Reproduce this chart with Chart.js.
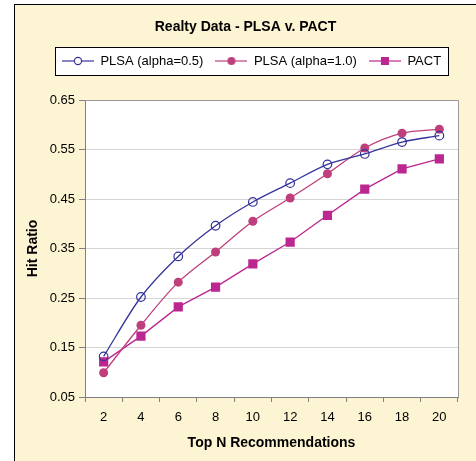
<!DOCTYPE html>
<html><head><meta charset="utf-8">
<script src="https://cdn.jsdelivr.net/npm/chart.js@4/dist/chart.umd.min.js"></script>
<style>
html,body{margin:0;padding:0;background:#fff;overflow:hidden;width:476px;height:461px}
#frame{position:absolute;left:14px;top:4px;width:480px;height:470px;border:1px solid #000;background:#fdf4d3}
#c{position:absolute;left:0;top:0}
</style></head><body>
<div id="frame"><canvas id="c" width="461" height="456"></canvas></div>
<script>
// ---- data ----
const categories = ['2','4','6','8','10','12','14','16','18','20'];
const plsaHalf = [0.132,0.252,0.334,0.396,0.444,0.482,0.520,0.541,0.565,0.578];
const plsaOne  = [0.099,0.195,0.282,0.343,0.405,0.452,0.501,0.553,0.583,0.591];
const pact     = [0.121,0.173,0.232,0.272,0.319,0.363,0.417,0.470,0.511,0.531];
const seriesNames = ['PLSA (alpha=0.5)','PLSA (alpha=1.0)','PACT'];
const yMin = 0.05, yMax = 0.65, yStep = 0.1;
const chartTitle = 'Realty Data - PLSA v. PACT';
const xTitle = 'Top N Recommendations';
const yTitle = 'Hit Ratio';

// ---- styles ----
const BLUE = '#333399', ROSE = '#bf3f7c', MAG = '#bb2690';
const FONT = 'Arial, "Liberation Sans", sans-serif';
Chart.defaults.font.family = FONT;
Chart.defaults.color = '#000';

function legendImg(color, kind){
  const c = document.createElement('canvas');
  c.width = 32; c.height = 12;
  const x = c.getContext('2d');
  x.strokeStyle = color; x.lineWidth = 1.2;
  x.beginPath(); x.moveTo(0,6); x.lineTo(32,6); x.stroke();
  if (kind === 'open'){
    x.fillStyle = '#fff'; x.beginPath(); x.arc(16,6,3.6,0,Math.PI*2); x.fill(); x.stroke();
  } else if (kind === 'dot'){
    x.fillStyle = color; x.beginPath(); x.arc(16,6,4,0,Math.PI*2); x.fill();
  } else {
    x.fillStyle = color; x.fillRect(12,2,8,8);
  }
  return c;
}
const legendImgs = [legendImg(BLUE,'open'), legendImg(ROSE,'dot'), legendImg(MAG,'sq')];

const LEGEND_GAP = 22.5;
const helper = {
  id: 'helper',
  beforeUpdate(chart){
    const lg = chart.legend;
    if (lg && !lg._patched){
      const orig = lg.fit;
      lg.fit = function(){ orig.call(this); if (this.isHorizontal()) this.height += LEGEND_GAP; };
      lg._patched = true;
    }
  },
  afterLayout(chart){
    const t = chart.titleBlock;
    t.left = 0; t.right = chart.width; t.width = chart.width;
    const lg = chart.legend;
    lg.left = 6; lg.right = chart.width + 6; lg.width = chart.width;
  },
  beforeDraw(chart){
    const ctx = chart.ctx, ca = chart.chartArea;
    ctx.save();
    ctx.fillStyle = '#fff';
    ctx.fillRect(ca.left, ca.top, ca.right - ca.left, ca.bottom - ca.top);
    const lg = chart.legend, pad = lg.options.labels.padding;
    const span = lg.lineWidths[0] - pad;
    const cx = (lg.left + lg.right) / 2;
    const cy = lg.top + pad + 6.5;
    const bx = Math.round(cx - span/2 - 7) + 0.5, by = Math.round(cy - 14) + 0.5;
    const bw = Math.round(span + 14), bh = 28;
    ctx.fillRect(bx, by, bw, bh);
    ctx.strokeStyle = '#000'; ctx.lineWidth = 1;
    ctx.strokeRect(bx, by, bw, bh);
    ctx.restore();
  },
  beforeDatasetsDraw(chart){
    const ctx = chart.ctx, ca = chart.chartArea;
    ctx.save();
    ctx.strokeStyle = '#9a9a9a'; ctx.lineWidth = 1;
    ctx.beginPath();
    ctx.moveTo(ca.left, Math.round(ca.top) + 0.5);
    ctx.lineTo(Math.round(ca.right) + 0.5, Math.round(ca.top) + 0.5);
    ctx.lineTo(Math.round(ca.right) + 0.5, ca.bottom);
    ctx.stroke();
    ctx.restore();
  }
};

new Chart(document.getElementById('c'), {
  type: 'line',
  data: {
    labels: categories,
    datasets: [
      { label: seriesNames[0], data: plsaHalf, borderColor: BLUE, borderWidth: 1.3, tension: 0.3,
        pointStyle: 'circle', pointRadius: 4.3, pointBorderWidth: 1.2, pointBorderColor: BLUE, pointBackgroundColor: 'rgba(255,255,255,0)' },
      { label: seriesNames[1], data: plsaOne, borderColor: ROSE, borderWidth: 1.3, tension: 0.3,
        pointStyle: 'circle', pointRadius: 4.5, pointBorderWidth: 0, pointBackgroundColor: ROSE },
      { label: seriesNames[2], data: pact, borderColor: MAG, borderWidth: 1.3, tension: 0,
        pointStyle: 'rect', pointRadius: 6.5, pointBorderWidth: 0, pointBackgroundColor: MAG }
    ]
  },
  options: {
    responsive: false,
    animation: false,
    devicePixelRatio: 1,
    layout: { padding: { left: 0, right: 18, top: 0, bottom: 0 } },
    plugins: {
      title: { display: true, text: chartTitle, color: '#000',
        font: { size: 14, weight: 'bold', family: FONT }, padding: { top: 13.6, bottom: 7.1 } },
      legend: { display: true, position: 'top',
        labels: {
          usePointStyle: true, pointStyleWidth: 32, padding: 12, color: '#000',
          font: { size: 13, family: FONT },
          generateLabels: (chart) => chart.data.datasets.map((ds, i) => ({
            text: ds.label, pointStyle: legendImgs[i], fillStyle: ds.borderColor,
            strokeStyle: ds.borderColor, lineWidth: 0, hidden: false, datasetIndex: i, fontColor: '#000'
          }))
        }
      },
      tooltip: { enabled: false }
    },
    scales: {
      x: {
        type: 'category', offset: true,
        grid: { offset: true, drawOnChartArea: false, drawTicks: true, tickLength: 5, tickColor: '#808080' },
        border: { color: '#808080', width: 1 },
        ticks: { padding: 8, color: '#000', font: { size: 13 }, maxRotation: 0, autoSkip: false },
        title: { display: true, text: xTitle, color: '#000', font: { size: 14, weight: 'bold' }, padding: { top: 9, bottom: 9.3 } },
        afterFit(s){ s.height = 64; }
      },
      y: {
        min: yMin, max: yMax,
        grid: { color: '#d4d4d4', tickLength: 6, tickColor: '#808080' },
        border: { color: '#808080', width: 1 },
        ticks: { stepSize: yStep, padding: 4, color: '#000', font: { size: 13 },
          callback: (v) => Number(v).toFixed(2) },
        title: { display: true, text: yTitle, color: '#000', font: { size: 14, weight: 'bold' }, padding: { top: 9.6, bottom: 4 } },
        afterFit(s){ s.width = 70; }
      }
    }
  },
  plugins: [helper]
});
</script>
</body></html>
